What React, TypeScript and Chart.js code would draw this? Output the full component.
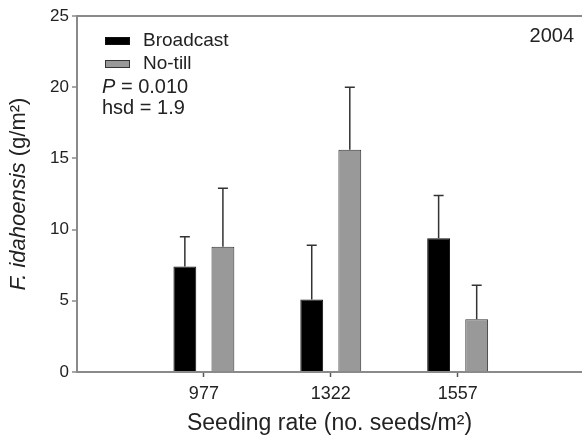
import { useEffect, useRef } from 'react';
import { Chart, registerables } from 'chart.js';

Chart.register(...registerables);

// ---- data ----
const categories = ['977', '1322', '1557'];
const seriesNames = ['Broadcast', 'No-till'];
const broadcast = [7.4, 5.1, 9.4];
const broadcastErr = [2.1, 3.8, 3.0];
const noTill = [8.8, 15.6, 3.7];
const noTillErr = [4.1, 4.4, 2.4];
const yTickValues = [0, 5, 10, 15, 20, 25];
const statText: [string, boolean][][] = [
  [['P', true], [' = 0.010', false]],
  [['hsd = 1.9', false]],
];
const yearLabel = '2004';
const xTitle = 'Seeding rate (no. seeds/m²)';
const yTitleRuns: [string, boolean][] = [['F. idahoensis', true], [' (g/m²)', false]];

const FONT = '"Liberation Sans", Arial, Helvetica, sans-serif';
const TEXT = '#222';
const AXIS = '#8a8a8a';

function drawRuns(ctx: CanvasRenderingContext2D, runs: [string, boolean][], x: number, y: number, size: number, center = false) {
  const widths = runs.map(([t, it]) => {
    ctx.font = `${it ? 'italic ' : ''}${size}px ${FONT}`;
    return ctx.measureText(t).width;
  });
  const total = widths.reduce((a, b) => a + b, 0);
  let cx = center ? x - total / 2 : x;
  runs.forEach(([t, it], i) => {
    ctx.font = `${it ? 'italic ' : ''}${size}px ${FONT}`;
    ctx.fillText(t, cx, y);
    cx += widths[i];
  });
}

const errs = [broadcastErr, noTillErr];

const errorBarPlugin = {
  id: 'errorBars',
  afterDatasetsDraw(chart: any) {
    const ctx = chart.ctx;
    const ys = chart.scales.y;
    ctx.save();
    ctx.strokeStyle = '#333';
    ctx.lineWidth = 1.5;
    chart.data.datasets.forEach((ds: any, i: number) => {
      const meta = chart.getDatasetMeta(i);
      meta.data.forEach((el: any, j: number) => {
        const v = ds.data[j].y;
        const top = ys.getPixelForValue(v + errs[i][j]);
        ctx.beginPath();
        ctx.moveTo(el.x, el.y);
        ctx.lineTo(el.x, top);
        ctx.moveTo(el.x - 5, top);
        ctx.lineTo(el.x + 5, top);
        ctx.stroke();
      });
    });
    ctx.restore();
  },
};

const annotationPlugin = {
  id: 'annotations',
  afterDraw(chart: any) {
    const ctx = chart.ctx;
    const ca = chart.chartArea;
    ctx.save();
    ctx.fillStyle = TEXT;
    ctx.textBaseline = 'middle';
    // legend
    chart.data.datasets.forEach((ds: any, i: number) => {
      const bx = ca.left + 28;
      const by = ca.top + 21 + i * 23;
      ctx.fillStyle = ds.backgroundColor;
      ctx.fillRect(bx, by, 25, 8);
      ctx.strokeStyle = ds.borderColor;
      ctx.lineWidth = 1;
      ctx.strokeRect(bx + 0.5, by + 0.5, 24, 7);
      ctx.fillStyle = TEXT;
      ctx.textAlign = 'left';
      ctx.font = `19px ${FONT}`;
      ctx.fillText(ds.label, ca.left + 66, by + 4);
    });
    // stats
    ctx.textAlign = 'left';
    statText.forEach((runs, i) => {
      drawRuns(ctx, runs, ca.left + 25, ca.top + 71 + i * 21, 20);
    });
    // year
    ctx.textAlign = 'right';
    ctx.font = `20px ${FONT}`;
    ctx.fillText(yearLabel, 574, ca.top + 20);
    // y title
    ctx.save();
    ctx.translate(19, (ca.top + ca.bottom) / 2);
    ctx.rotate(-Math.PI / 2);
    ctx.textAlign = 'left';
    drawRuns(ctx, yTitleRuns, 0, 0, 22, true);
    ctx.restore();
    ctx.restore();
  },
};

export default function App() {
  const ref = useRef<HTMLCanvasElement>(null);
  useEffect(() => {
    if (!ref.current) return;
    const chart = new Chart(ref.current, {
      type: 'bar',
      data: {
        datasets: [
          {
            label: seriesNames[0],
            data: broadcast.map((v, i) => ({ x: i + 1, y: v })),
            backgroundColor: '#000000',
            borderColor: '#111111',
            borderWidth: 1,
          },
          {
            label: seriesNames[1],
            data: noTill.map((v, i) => ({ x: i + 1, y: v })),
            backgroundColor: '#999999',
            borderColor: '#333333',
            borderWidth: 1,
          },
        ],
      },
      options: {
        animation: false,
        responsive: false,
        datasets: { bar: { categoryPercentage: 0.6, barPercentage: 0.6 } },
        layout: { padding: { top: 16, right: 0, left: 0, bottom: 0 } },
        plugins: { legend: { display: false }, tooltip: { enabled: false } },
        scales: {
          x: {
            type: 'linear',
            min: 0,
            max: 3.98,
            offset: false,
            afterFit: (s: any) => { s.height = 65; },
            ticks: {
              stepSize: 1,
              includeBounds: false,
              autoSkip: false,
              maxRotation: 0,
              padding: 6,
              color: TEXT,
              font: { family: FONT, size: 18 },
              callback: (v: any) => categories[Number(v) - 1] ?? '',
            },
            grid: {
              offset: false,
              color: 'transparent',
              drawOnChartArea: false,
              tickLength: 5,
              tickColor: (c: any) => (c.tick && c.tick.value >= 1 ? '#555' : 'transparent'),
              tickWidth: 1.5,
            },
            border: { color: AXIS, width: 2 },
            title: {
              display: true,
              text: xTitle,
              color: TEXT,
              font: { family: FONT, size: 23 },
              padding: { top: 0, bottom: 0 },
            },
          },
          y: {
            min: 0,
            max: 25,
            afterFit: (s: any) => { s.width = 77; },
            afterBuildTicks: (s: any) => { s.ticks = yTickValues.map((v) => ({ value: v })); },
            ticks: {
              color: TEXT,
              padding: 3,
              font: { family: FONT, size: 17 },
            },
            grid: {
              color: (c: any) => (c.tick && c.tick.value === 25 ? AXIS : 'transparent'),
              lineWidth: 2,
              tickLength: 5,
              tickColor: AXIS,
              tickWidth: 1.5,
            },
            border: { color: AXIS, width: 2 },
          },
        },
      },
      plugins: [errorBarPlugin, annotationPlugin],
    } as any);
    return () => chart.destroy();
  }, []);
  return (
    <div style={{ position: 'fixed', left: 0, top: 0, width: 582, height: 437, background: '#fff' }}>
      <canvas ref={ref} width={582} height={437} style={{ display: 'block' }} />
    </div>
  );
}
